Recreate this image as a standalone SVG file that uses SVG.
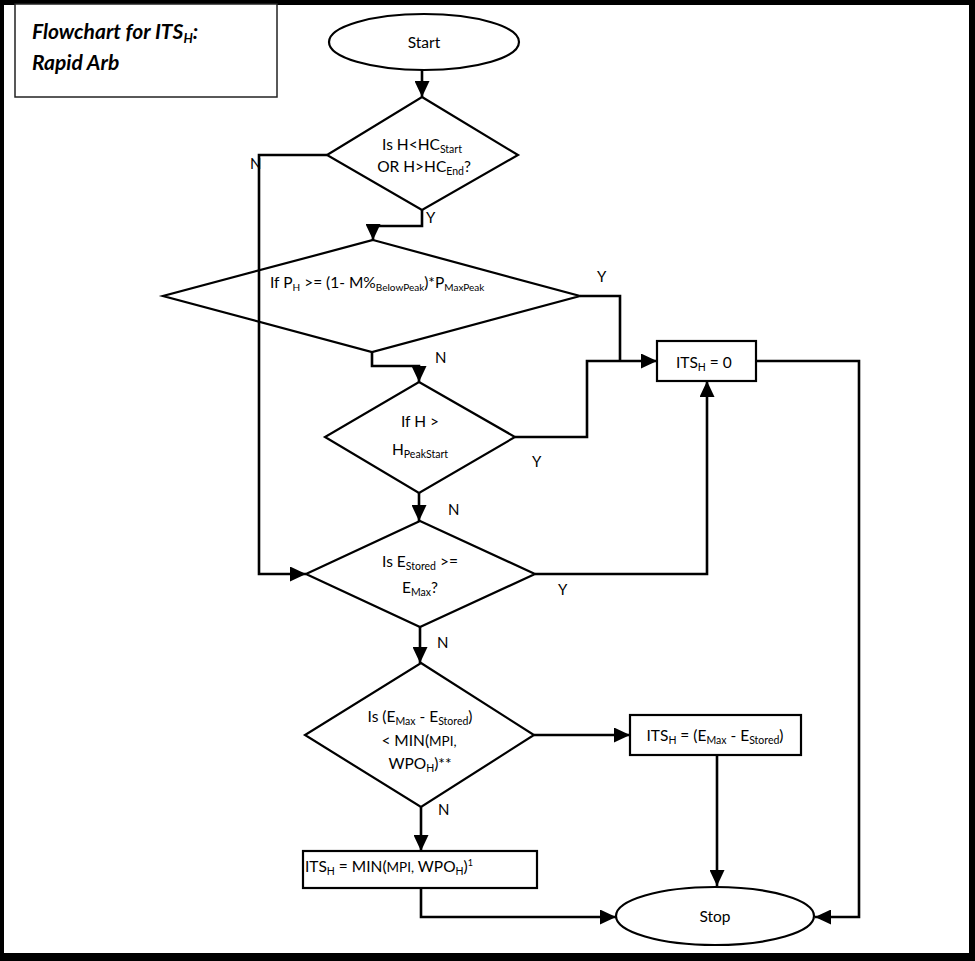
<svg xmlns="http://www.w3.org/2000/svg" width="975" height="961" viewBox="0 0 975 961">
<defs>
<style>
.shape{fill:#fff;stroke:#000;stroke-width:2.2}
.conn{fill:none;stroke:#000;stroke-width:2.6}
text{font-family:Lato,"Liberation Sans",sans-serif;font-size:15.5px;fill:#000}
.t{text-anchor:middle}
.lbl{font-size:15px}
.title{font-size:21px;font-weight:bold;font-style:italic}
</style>
<marker id="arr" markerUnits="userSpaceOnUse" markerWidth="16" markerHeight="15" refX="16" refY="7.5" orient="auto">
<path d="M0,0 L16,7.5 L0,15 Z" fill="#000"/>
</marker>
</defs>
<rect width="975" height="961" fill="#fff"/>
<path d="M0,0H975V961H0Z M4,5V953H969V5Z" fill="#000" fill-rule="evenodd"/>

<g id="title">
<rect x="15" y="4" width="262" height="93" fill="#fff" stroke="#222" stroke-width="1.5"/>
<text class="title" x="32" y="39">Flowchart for ITS<tspan font-size="13" dy="4">H</tspan><tspan dy="-4">:</tspan></text>
<text class="title" x="32" y="70">Rapid Arb</text>
</g>

<g id="start">
<ellipse class="shape" cx="424" cy="42" rx="95" ry="28"/>
<text class="t" x="424" y="48">Start</text>
</g>

<g id="d1">
<polygon class="shape" points="422,97 518,155 422,210 327,155"/>
<text class="t" x="422" y="150">Is H&lt;HC<tspan font-size="10.5" dy="3">Start</tspan></text>
<text class="t" x="424" y="172">OR H&gt;HC<tspan font-size="10.5" dy="3">End</tspan><tspan dy="-3">?</tspan></text>
</g>

<g id="d2">
<polygon class="shape" points="373,240 580,296 372,352 163,296"/>
<text x="270" y="288">If P<tspan font-size="10" dy="3">H</tspan><tspan dy="-3"> &gt;= (1- M%</tspan><tspan font-size="10" dy="3">BelowPeak</tspan><tspan dy="-3">)*P</tspan><tspan font-size="10" dy="3">MaxPeak</tspan></text>
</g>

<g id="d3">
<polygon class="shape" points="419,382 515,437 419,493 325,437"/>
<text class="t" x="420" y="427">If H &gt;</text>
<text class="t" x="420" y="455">H<tspan font-size="10.5" dy="3">PeakStart</tspan></text>
</g>

<g id="its0">
<rect class="shape" x="657" y="341" width="99" height="40"/>
<text x="676" y="368">ITS<tspan font-size="10.5" dy="3">H</tspan><tspan dy="-3"> = 0</tspan></text>
</g>

<g id="d4">
<polygon class="shape" points="420,521 535,574 420,627 306,574"/>
<text class="t" x="420" y="567">Is E<tspan font-size="10.5" dy="3">Stored</tspan><tspan dy="-3"> &gt;=</tspan></text>
<text class="t" x="420" y="593">E<tspan font-size="10.5" dy="3">Max</tspan><tspan dy="-3">?</tspan></text>
</g>

<g id="d5">
<polygon class="shape" points="421,663 534,735 421,807 305,735"/>
<text class="t" x="420" y="722">Is (E<tspan font-size="10.5" dy="3">Max</tspan><tspan dy="-3"> - E</tspan><tspan font-size="10.5" dy="3">Stored</tspan><tspan dy="-3">)</tspan></text>
<text class="t" x="419" y="746">&lt; MIN(<tspan font-size="13.5">MPI,</tspan></text>
<text class="t" x="420" y="769">WPO<tspan font-size="10.5" dy="3">H</tspan><tspan dy="-3">)**</tspan></text>
</g>

<g id="itsdiff">
<rect class="shape" x="630" y="715" width="171" height="40"/>
<text class="t" x="715" y="741">ITS<tspan font-size="10.5" dy="3">H</tspan><tspan dy="-3"> = (E</tspan><tspan font-size="10.5" dy="3">Max</tspan><tspan dy="-3"> - E</tspan><tspan font-size="10.5" dy="3">Stored</tspan><tspan dy="-3">)</tspan></text>
</g>

<g id="itsmin">
<rect class="shape" x="303" y="851" width="234" height="37"/>
<text x="305" y="872">ITS<tspan font-size="10.5" dy="3">H</tspan><tspan dy="-3"> = MIN(</tspan><tspan font-size="13.5">MPI,</tspan><tspan>  WPO</tspan><tspan font-size="10.5" dy="3">H</tspan><tspan dy="-3">)</tspan><tspan font-size="9" dy="-6">1</tspan></text>
</g>

<g id="stop">
<ellipse class="shape" cx="715" cy="916" rx="99" ry="29"/>
<text class="t" x="715" y="922">Stop</text>
</g>

<g id="connectors">
<path class="conn" d="M422,70 V97" marker-end="url(#arr)"/>
<path class="conn" d="M327,155 H259 V574 H306" marker-end="url(#arr)"/>
<path class="conn" d="M422,210 V226 H373 V240" marker-end="url(#arr)"/>
<path class="conn" d="M580,296 H620 V361"/>
<path class="conn" d="M515,437 H587 V361 H657" marker-end="url(#arr)"/>
<path class="conn" d="M372,352 V366 H419 V382" marker-end="url(#arr)"/>
<path class="conn" d="M419,493 V521" marker-end="url(#arr)"/>
<path class="conn" d="M535,574 H707 V381" marker-end="url(#arr)"/>
<path class="conn" d="M420,627 V663" marker-end="url(#arr)"/>
<path class="conn" d="M534,735 H630" marker-end="url(#arr)"/>
<path class="conn" d="M421,807 V851" marker-end="url(#arr)"/>
<path class="conn" d="M717,755 V886" marker-end="url(#arr)"/>
<path class="conn" d="M421,888 V917 H616" marker-end="url(#arr)"/>
<path class="conn" d="M756,361 H859 V917 H815" marker-end="url(#arr)"/>
<text class="lbl" x="250" y="169">N</text>
<text class="lbl" x="426" y="223">Y</text>
<text class="lbl" x="597" y="282">Y</text>
<text class="lbl" x="435" y="363">N</text>
<text class="lbl" x="532" y="467">Y</text>
<text class="lbl" x="448" y="515">N</text>
<text class="lbl" x="558" y="595">Y</text>
<text class="lbl" x="437" y="648">N</text>
<text class="lbl" x="438" y="815">N</text>
</g>
</svg>
